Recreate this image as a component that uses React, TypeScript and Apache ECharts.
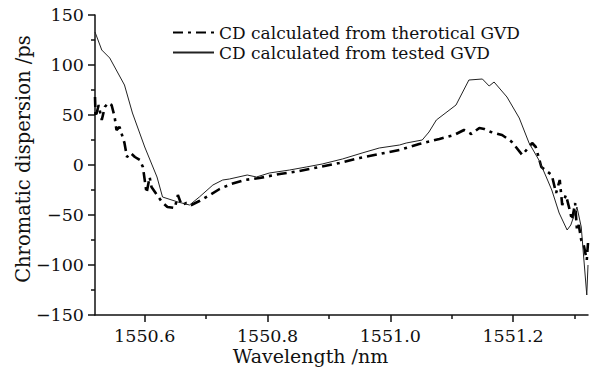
import React, { useEffect, useRef } from "react";
import * as echarts from "echarts";

const theoX = [
  1550.519, 1550.52, 1550.525, 1550.53, 1550.535, 1550.54, 1550.546, 1550.551, 1550.554, 1550.559,
  1550.567, 1550.571, 1550.577, 1550.584, 1550.592, 1550.597, 1550.603, 1550.608, 1550.611, 1550.62,
  1550.628, 1550.637, 1550.649, 1550.654, 1550.66, 1550.668, 1550.676, 1550.689, 1550.706, 1550.722,
  1550.741, 1550.763, 1550.787, 1550.82, 1550.852, 1550.885, 1550.917, 1550.95, 1550.982, 1551.015,
  1551.047, 1551.08, 1551.104, 1551.12, 1551.132, 1551.145, 1551.153, 1551.164, 1551.182, 1551.194,
  1551.198, 1551.215, 1551.231, 1551.237, 1551.246, 1551.263, 1551.27, 1551.276, 1551.28, 1551.286,
  1551.291, 1551.296, 1551.301, 1551.304, 1551.307, 1551.311, 1551.315, 1551.32, 1551.322,
];
const theoY = [
  68, 48, 60, 45, 58, 62, 60, 48, 35, 38,
  22, 8, 12, 8, 5, -2, -28, -12, -22, -30,
  -37, -42, -43, -30, -40, -38, -40, -36, -30, -24,
  -19, -15, -13, -9, -6, -2, 2, 7, 11, 15,
  21, 26, 30, 35, 31, 37, 36, 33, 30, 25,
  23, 10, 22, 18, -2, -10, -28, -15, -40, -30,
  -42, -55, -38, -65, -60, -75, -80, -95, -78,
];

const testX = [
  1550.519, 1550.53, 1550.543, 1550.567, 1550.58, 1550.6, 1550.62, 1550.629, 1550.654, 1550.673,
  1550.689, 1550.711, 1550.727, 1550.738, 1550.767, 1550.782, 1550.803, 1550.836, 1550.863, 1550.889,
  1550.922, 1550.954, 1550.982, 1551.015, 1551.026, 1551.052, 1551.063, 1551.075, 1551.107, 1551.128,
  1551.15, 1551.161, 1551.169, 1551.19, 1551.21, 1551.226, 1551.242, 1551.254, 1551.263, 1551.275,
  1551.288, 1551.294, 1551.304, 1551.311, 1551.32, 1551.322,
];
const testY = [
  133, 115, 107, 80, 52, 18, -12, -32, -37, -40,
  -32, -20, -15, -14, -10, -12, -8, -5, -2, 1,
  6, 12, 17, 20, 22, 25, 33, 45, 60, 85,
  86, 79, 83, 68, 47, 22, 5, -12, -25, -48,
  -65, -60, -42, -62, -130, -100,
];

const xMajorTicks = [1550.6, 1550.8, 1551.0, 1551.2];
const xMinorTicks = [1550.7, 1550.9, 1551.1, 1551.3];

const seriesNames = ["CD calculated from therotical GVD", "CD calculated from tested GVD"];

const FONT = "DejaVu Serif";

export default function App() {
  const ref = useRef<HTMLDivElement>(null);
  useEffect(() => {
    document.body.style.margin = "0";
    const chart = echarts.init(ref.current!, null, { renderer: "svg" });
    const pair = (xs: number[], ys: number[]) => xs.map((x, i) => [x, ys[i]]);
    const minus = (v: number) => String(v).replace("-", "\u2212");
    chart.setOption({
      animation: false,
      backgroundColor: "#fff",
      textStyle: { fontFamily: FONT },
      grid: { left: 95, right: 3, top: 15, bottom: 61, outerBoundsMode: "none" },
      legend: {
        orient: "vertical",
        left: 167,
        top: 19,
        itemWidth: 41,
        itemHeight: 14,
        itemGap: 3,
        itemStyle: { opacity: 0 },
        textStyle: { fontFamily: FONT, fontSize: 17, color: "#111" },
        data: seriesNames,
      },
      xAxis: [
        {
          type: "value",
          min: 1550.519,
          max: 1551.322,
          position: "bottom",
          name: "Wavelength /nm",
          nameLocation: "middle",
          nameGap: 31,
          nameMoveOverlap: false,
          nameTextStyle: { fontFamily: FONT, fontSize: 19, color: "#111", padding: [0, 62, 0, 0] },
          axisLine: { show: true, onZero: false, lineStyle: { color: "#111", width: 1.5 } },
          axisTick: { show: true, inside: false, length: 7, customValues: xMajorTicks, lineStyle: { color: "#111", width: 1.5 } },
          axisLabel: {
            customValues: xMajorTicks,
            margin: 12,
            fontFamily: FONT,
            fontSize: 17.5,
            color: "#111",
            formatter: (v: number) => v.toFixed(1),
          },
          splitLine: { show: false },
        },
        {
          type: "value",
          min: 1550.519,
          max: 1551.322,
          position: "bottom",
          axisLine: { show: false, onZero: false },
          axisTick: { show: true, inside: false, length: 4, customValues: xMinorTicks, lineStyle: { color: "#111", width: 1.5 } },
          axisLabel: { show: false, customValues: xMinorTicks },
          splitLine: { show: false },
        },
      ],
      yAxis: {
        type: "value",
        min: -150,
        max: 150,
        interval: 50,
        name: "Chromatic dispersion /ps",
        nameLocation: "middle",
        nameGap: 62,
        nameMoveOverlap: false,
        nameTextStyle: { fontFamily: FONT, fontSize: 19.5, color: "#111", padding: [0, 0, 0, 12] },
        axisLine: { show: true, onZero: false, lineStyle: { color: "#111", width: 1.5 } },
        axisTick: { show: true, inside: false, length: 7, lineStyle: { color: "#111", width: 1.5 } },
        minorTick: { show: true, splitNumber: 2, length: 4, lineStyle: { color: "#111", width: 1.5 } },
        axisLabel: { margin: 11, fontFamily: FONT, fontSize: 17.5, color: "#111", formatter: minus },
        splitLine: { show: false },
      },
      series: [
        {
          name: seriesNames[0],
          type: "line",
          xAxisIndex: 0,
          symbol: "none",
          data: pair(theoX, theoY),
          lineStyle: { color: "#000", width: 2.6, type: [10, 5, 3, 5] },
          itemStyle: { color: "#000" },
        },
        {
          name: seriesNames[1],
          type: "line",
          xAxisIndex: 0,
          symbol: "none",
          data: pair(testX, testY),
          lineStyle: { color: "#222", width: 1 },
          itemStyle: { color: "#222" },
        },
      ],
    });
    return () => chart.dispose();
  }, []);
  return <div ref={ref} style={{ position: "absolute", left: 0, top: 0, width: 591, height: 376 }} />;
}
